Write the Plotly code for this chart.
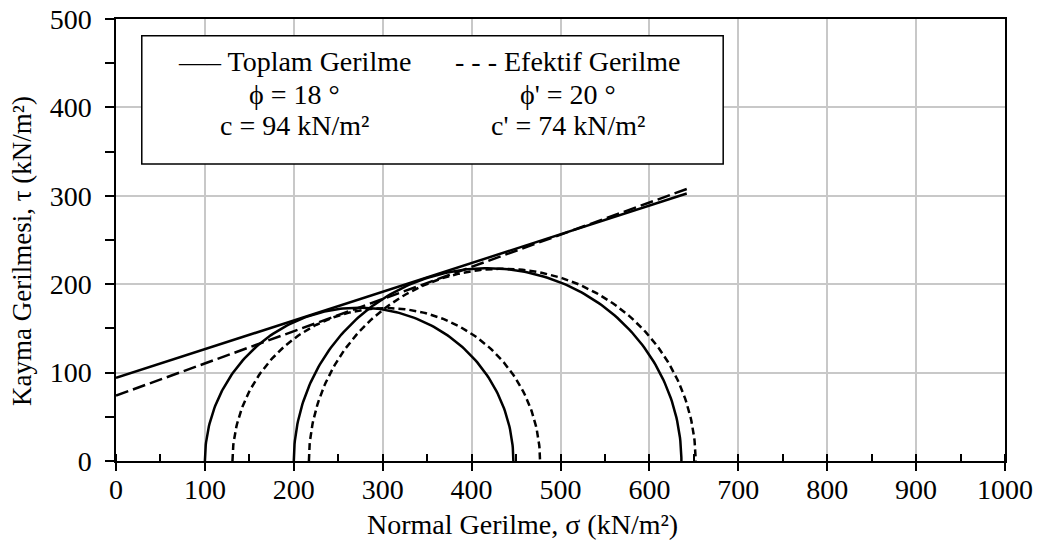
import numpy as np
import plotly.graph_objects as go

# Mohr circles: minor / major principal stresses (kN/m²)
sigma3_total = [100, 200]
sigma1_total = [447, 636]
sigma3_eff = [131, 217]
sigma1_eff = [477, 652]

# Failure envelopes: cohesion (kN/m²) and friction angle (degrees)
c_total, phi_total = 94, 18
c_eff, phi_eff = 74, 20
sigma_env = [0, 642]

x_ticks = list(range(0, 1001, 100))
y_ticks = list(range(0, 501, 100))

FONT = "Liberation Serif"
BLACK = "#000000"
FS = 28
LW = 2.5


def mohr_half(s3, s1, n=181):
    centre = (s1 + s3) / 2.0
    radius = (s1 - s3) / 2.0
    th = np.linspace(np.pi, 0, n)
    return centre + radius * np.cos(th), radius * np.sin(th)


fig = go.Figure()

# total stress circles (solid) and effective stress circles (dashed)
for s3, s1 in zip(sigma3_total, sigma1_total):
    x, y = mohr_half(s3, s1)
    fig.add_trace(go.Scatter(x=x, y=y, mode="lines",
                             line=dict(color=BLACK, width=LW), hoverinfo="skip"))
for s3, s1 in zip(sigma3_eff, sigma1_eff):
    x, y = mohr_half(s3, s1)
    fig.add_trace(go.Scatter(x=x, y=y, mode="lines",
                             line=dict(color=BLACK, width=LW, dash="7px,4px"),
                             hoverinfo="skip"))

# Mohr-Coulomb envelopes  tau = c + sigma * tan(phi)
env_x = np.array(sigma_env, dtype=float)
fig.add_trace(go.Scatter(x=env_x, y=c_total + env_x * np.tan(np.radians(phi_total)),
                         mode="lines", line=dict(color=BLACK, width=LW),
                         hoverinfo="skip"))
fig.add_trace(go.Scatter(x=env_x, y=c_eff + env_x * np.tan(np.radians(phi_eff)),
                         mode="lines", line=dict(color=BLACK, width=LW, dash="13px,5px"),
                         hoverinfo="skip"))

# parameter box
fig.add_shape(type="rect", xref="x", yref="y", x0=29, x1=683, y0=336, y1=481,
              line=dict(color=BLACK, width=1.5), fillcolor="white", layer="above")

col_l, col_r = 201, 508
rows_y = [452, 415, 380]
left_txt = ["—– Toplam Gerilme", f"ϕ = {phi_total} °", f"c = {c_total} kN/m²"]
right_txt = ["- - - Efektif Gerilme", f"ϕ' = {phi_eff} °", f"c' = {c_eff} kN/m²"]
for yy, lt, rt in zip(rows_y, left_txt, right_txt):
    fig.add_annotation(x=col_l, y=yy, xref="x", yref="y", text=lt, showarrow=False,
                       xanchor="center", yanchor="middle",
                       font=dict(family=FONT, size=FS, color=BLACK))
    fig.add_annotation(x=col_r, y=yy, xref="x", yref="y", text=rt, showarrow=False,
                       xanchor="center", yanchor="middle",
                       font=dict(family=FONT, size=FS, color=BLACK))

W, H = 1045, 543
L, R, T, B = 116, 40, 19, 82
PW, PH = W - L - R, H - T - B

# axis titles, positioned in pixels and converted to paper fractions
fig.add_annotation(x=(522 - L) / PW, y=1 - (524 - T) / PH, xref="paper", yref="paper",
                   text="Normal Gerilme, σ (kN/m²)",
                   showarrow=False, xanchor="center", yanchor="middle",
                   font=dict(family=FONT, size=FS, color=BLACK))
fig.add_annotation(x=(22 - L) / PW, y=1 - (251 - T) / PH, xref="paper", yref="paper",
                   text="Kayma Gerilmesi, τ (kN/m²)",
                   showarrow=False, xanchor="center", yanchor="middle", textangle=-90,
                   font=dict(family=FONT, size=27, color=BLACK))

axis_common = dict(
    showline=True, linecolor=BLACK, linewidth=1.5, mirror=True,
    showgrid=True, gridcolor="#c8c8c8", gridwidth=2,
    zeroline=False, ticks="outside", tickcolor=BLACK, tickwidth=1.5,
    tickfont=dict(family=FONT, size=FS, color=BLACK),
    automargin=False,
)

fig.update_xaxes(range=[0, 1000], tickvals=x_ticks, ticklen=8, ticklabelstandoff=-5,
                 minor=dict(dtick=50, ticks="inside", ticklen=7, tickcolor=BLACK,
                            tickwidth=1.5, showgrid=False),
                 **axis_common)
fig.update_yaxes(range=[0, 500], tickvals=y_ticks, ticklen=9, ticklabelstandoff=8,
                 minor=dict(dtick=50, ticks="outside", ticklen=9, tickcolor=BLACK,
                            tickwidth=1.5, showgrid=False),
                 **axis_common)

fig.update_layout(
    width=W, height=H,
    margin=dict(l=L, r=R, t=T, b=B, autoexpand=False),
    plot_bgcolor="white", paper_bgcolor="white",
    showlegend=False,
    font=dict(family=FONT, color=BLACK),
)

fig.write_html("out.html")
